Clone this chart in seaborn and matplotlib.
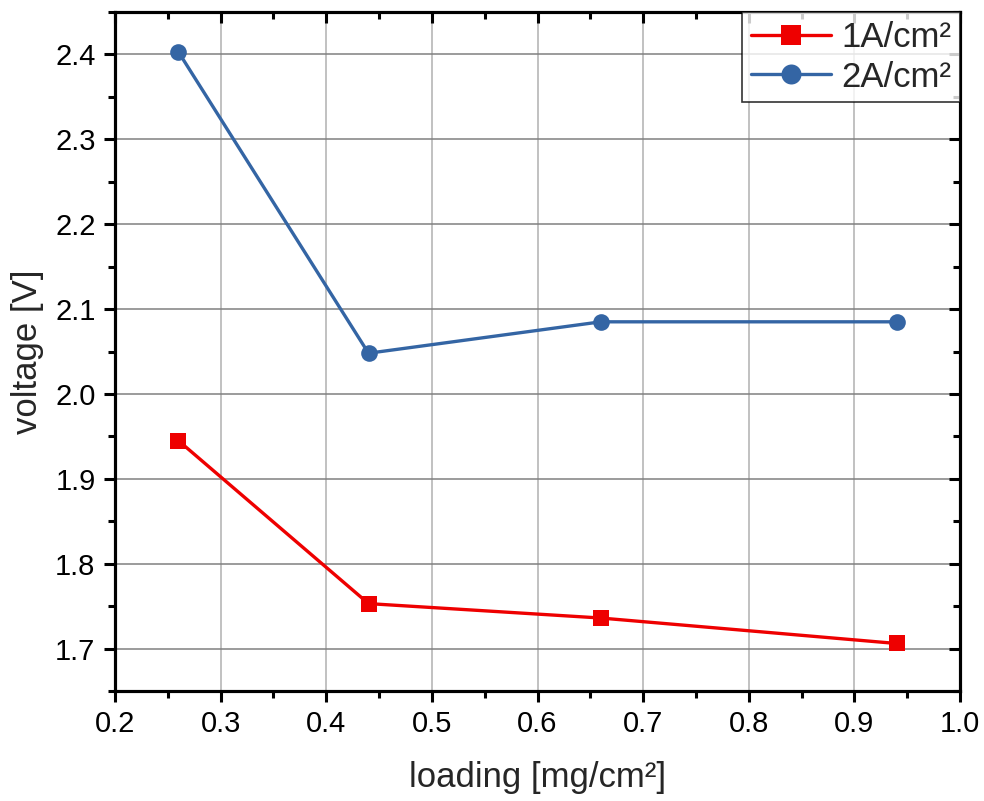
import matplotlib
matplotlib.use("Agg")
import matplotlib.pyplot as plt
import seaborn as sns
import pandas as pd
from matplotlib.ticker import MultipleLocator

loading = [0.26, 0.44, 0.66, 0.94]
v_1A = [1.945, 1.753, 1.736, 1.706]
v_2A = [2.403, 2.048, 2.085, 2.085]
series_labels = ["1A/cm²", "2A/cm²"]

sns.set_style("white")
plt.rcParams['font.family'] = ['Liberation Sans', 'DejaVu Sans']

df = pd.concat([
    pd.DataFrame({"loading": loading, "voltage": v_1A, "series": series_labels[0]}),
    pd.DataFrame({"loading": loading, "voltage": v_2A, "series": series_labels[1]}),
])

fig = plt.figure(figsize=(9.84, 8.01), dpi=100)
ax = fig.add_axes([0.1169, 0.1373, 0.9756 - 0.1169, 0.985 - 0.1373])

palette = {series_labels[0]: "#ee0000", series_labels[1]: "#3465a4"}
sns.lineplot(data=df, x="loading", y="voltage", hue="series", style="series",
             markers={series_labels[0]: "s", series_labels[1]: "o"}, dashes=False,
             palette=palette, ax=ax, linewidth=2.4, markersize=12, markeredgewidth=0)

ax.set_xlim(0.2, 1.0)
ax.set_ylim(1.65, 2.45)
ax.xaxis.set_major_locator(MultipleLocator(0.1))
ax.xaxis.set_minor_locator(MultipleLocator(0.05))
ax.yaxis.set_major_locator(MultipleLocator(0.1))
ax.yaxis.set_minor_locator(MultipleLocator(0.05))
ax.set_yticks([1.7, 1.8, 1.9, 2.0, 2.1, 2.2, 2.3, 2.4])

ax.grid(True, axis="x", which="major", color="#b0b0b0", linewidth=1.1)
ax.grid(True, axis="y", which="major", color="#808080", linewidth=1.1)
ax.set_axisbelow(True)

for s in ax.spines.values():
    s.set_color("black")
    s.set_linewidth(2.2)

ax.tick_params(axis="both", which="major", direction="out", length=8, width=2.2,
               labelsize=21, color="black", labelcolor="black", pad=6,
               bottom=True, left=True, top=False, right=False)
ax.tick_params(axis="both", which="minor", direction="out", length=5, width=2.2, color="black",
               bottom=True, left=True, top=False, right=False)

# inward ticks on top (twiny) and right (twinx)
axt = ax.twiny()
axt.set_xlim(ax.get_xlim())
axt.xaxis.set_ticks_position("top")
axt.xaxis.set_major_locator(MultipleLocator(0.1))
axt.xaxis.set_minor_locator(MultipleLocator(0.05))
axt.tick_params(axis="x", which="major", direction="in", length=8, width=2.2, color="black",
                top=True, bottom=False, labeltop=False, labelbottom=False)
axt.tick_params(axis="x", which="minor", direction="in", length=5, width=2.2, color="black",
                top=True, bottom=False)
axt.grid(False)

axr = ax.twinx()
axr.set_ylim(ax.get_ylim())
axr.yaxis.set_ticks_position("right")
axr.yaxis.set_major_locator(MultipleLocator(0.1))
axr.yaxis.set_minor_locator(MultipleLocator(0.05))
axr.tick_params(axis="y", which="major", direction="in", length=8, width=2.2, color="black",
                right=True, left=False, labelright=False, labelleft=False)
axr.tick_params(axis="y", which="minor", direction="in", length=5, width=2.2, color="black",
                right=True, left=False)
axr.grid(False)
for a in (axt, axr):
    for s in a.spines.values():
        s.set_color("black")
        s.set_linewidth(2.2)

ax.set_xlabel("loading [mg/cm²]", fontsize=25, labelpad=16)
ax.set_ylabel("voltage [V]", fontsize=25, labelpad=8)

handles, labels = ax.get_legend_handles_labels()
ax.get_legend().remove() if ax.get_legend() else None
leg = axr.legend(handles, labels, loc="upper right", fontsize=25, frameon=True, fancybox=False,
                 borderaxespad=0, handlelength=2.3, borderpad=0.25, labelspacing=0.2,
                 handletextpad=0.3, markerscale=1.2)
leg.get_frame().set_edgecolor("black")
leg.get_frame().set_linewidth(1.2)

fig.savefig("out.png", dpi=100)
